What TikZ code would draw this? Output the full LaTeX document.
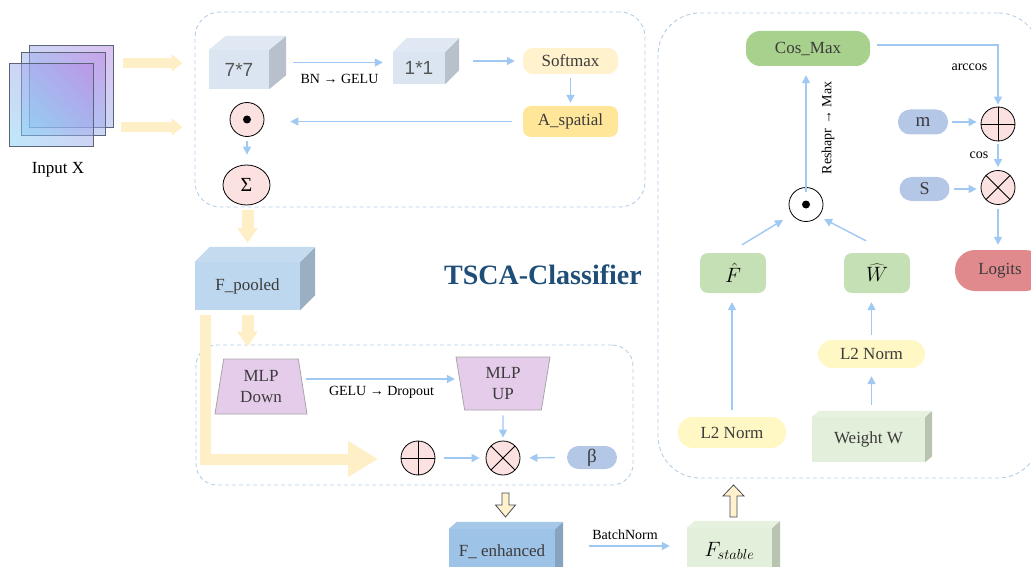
\documentclass[tikz,border=0pt]{standalone}
\usepackage{fontspec}
\setmainfont{Liberation Serif}
\setsansfont{Liberation Sans}
\usetikzlibrary{arrows.meta,calc,shapes.geometric,shadings}
\definecolor{yelc}{HTML}{FFEFC6}
\definecolor{yelh}{HTML}{FFF2CC}
\definecolor{hollb}{HTML}{4A4A55}
\definecolor{bluec}{HTML}{9FC8F2}
\definecolor{dashc}{HTML}{B4CEE8}
\definecolor{pinkc}{HTML}{FCE1E1}
\definecolor{softc}{HTML}{FFF2CC}
\definecolor{aspc}{HTML}{FFE699}
\definecolor{cubeA}{HTML}{DAE5F1}
\definecolor{cubeAside}{HTML}{B7C0CB}
\definecolor{cubeAtop}{HTML}{DFE8F3}
\definecolor{poolc}{HTML}{BDD7EE}
\definecolor{poolside}{HTML}{9AAFC2}
\definecolor{pooltop}{HTML}{C3DAEF}
\definecolor{enhc}{HTML}{9DC3E6}
\definecolor{enhside}{HTML}{86A4BF}
\definecolor{enhtop}{HTML}{A5C8E8}
\definecolor{grnl}{HTML}{E2EFDA}
\definecolor{grnlside}{HTML}{B8C4AF}
\definecolor{grnltop}{HTML}{E6F1DF}
\definecolor{mlpc}{HTML}{E6CCEB}
\definecolor{mlpb}{HTML}{A6A6A6}
\definecolor{betac}{HTML}{B4C7E7}
\definecolor{cosc}{HTML}{A9D18E}
\definecolor{hatc}{HTML}{C5E0B4}
\definecolor{logc}{HTML}{E08A8E}
\definecolor{l2c}{HTML}{FFF8C4}
\definecolor{titlec}{HTML}{1F4E79}
\definecolor{txtc}{HTML}{3B3B3B}
\definecolor{graysans}{HTML}{555555}
\definecolor{sqA}{HTML}{7FD3F5}
\definecolor{sqB}{HTML}{B784E3}
\definecolor{sqborder}{HTML}{5C6478}

\newcommand\cubefaces[5]{%
  \fill[#4] (#1.north east) -- ++(#2,-#3) -- ($(#1.south east)+(#2,-#3)$) -- (#1.south east) -- cycle;
  \fill[#5] (#1.north west) -- ++(#2,-#3) -- ($(#1.north east)+(#2,-#3)$) -- (#1.north east) -- cycle;
  \coordinate (#1-e) at ($(#1.east)+(#2,-#3/2)$);
  \coordinate (#1-w) at ($(#1.west)+(0,-#3/2)$);
  \coordinate (#1-n) at ($(#1.north)+(0,-#3)$);
}

\begin{document}
\begin{tikzpicture}[x=1pt,y=-1pt,
  every node/.style={inner sep=0pt, text=txtc, font=\fontsize{17}{20}\selectfont},
  lbl/.style={font=\fontsize{14}{16}\selectfont, text=black, inner sep=1pt},
  mathbig/.style={font=\fontsize{20.74}{24}\selectfont, text=black},
  dbox/.style={draw=dashc, line width=0.9pt, dash pattern=on 4pt off 3pt},
  barrow/.style={draw=bluec, line width=1.4pt, -{Triangle[length=8pt,width=8pt]}},
  yarr/.style={draw=yelc, line width=10pt, -{Triangle[length=11pt,width=17pt]}},
  hollow/.style={draw=hollb, fill=yelh, line width=0.8pt, line join=miter},
  sqn/.style={draw=sqborder, line width=1pt, lower left=sqA, upper right=sqB, lower right=sqA!50!sqB, upper left=sqA!50!sqB, fill opacity=0.5, draw opacity=1},
  cubef/.style={fill=#1},
  sansbig/.style={font=\sffamily\fontsize{19}{22}\selectfont, text=graysans},
  opbase/.style={circle, draw=black, line width=0.8pt, fill=pinkc, minimum size=34pt},
  oplusn/.style={opbase, path picture={\draw[line width=0.8pt] (path picture bounding box.north) -- (path picture bounding box.south) (path picture bounding box.west) -- (path picture bounding box.east);}},
  otimesn/.style={opbase, path picture={\draw[line width=0.8pt] (path picture bounding box.north west) -- (path picture bounding box.south east) (path picture bounding box.north east) -- (path picture bounding box.south west);}},
  odotn/.style={opbase, path picture={\fill[black] (path picture bounding box.center) circle[radius=4pt];}},
  mlpn/.style={trapezium, draw=mlpb, line width=0.8pt, fill=mlpc, trapezium left angle=75, trapezium right angle=75, trapezium stretches body, align=center, font=\fontsize{17}{21}\selectfont},
  pill/.style={fill=#1, rounded corners=12pt},
]
\useasboundingbox (0,0) rectangle (1031,567);

% dashed frames
\node[dbox, rounded corners=25pt, minimum width=450pt, minimum height=195pt] (topbox) at (420,109.5) {};
\node[dbox, rounded corners=21pt, minimum width=437pt, minimum height=140pt] (mlpbox) at (414.5,415) {};
\node[dbox, rounded corners=42pt, minimum width=382pt, minimum height=465pt] (clsbox) at (849,245.5) {};

% input
\node[sqn, minimum width=84pt, minimum height=82pt] (sqback) at (71,87) {};
\node[sqn, minimum width=84pt, minimum height=83pt] (sqmid) at (63,94.5) {};
\node[sqn, minimum width=84pt, minimum height=83pt] (sqfront) at (51,105.5) {};
\node[text=black] (inlab) at (58,170) {Input X};
\coordinate (inA) at (123,63);
\coordinate (inB) at (121,127);
\draw[yarr, shorten >=12pt] (inA) -- (inA -| topbox.west);
\draw[yarr, shorten >=12pt] (inB) -- (inB -| topbox.west);

% spatial attention
\node[cubef=cubeA, sansbig, minimum width=60pt, minimum height=39pt] (c77) at (239,69.5) {7*7};
\cubefaces{c77}{17}{14}{cubeAside}{cubeAtop}
\node[cubef=cubeA, sansbig, minimum width=52pt, minimum height=32pt] (c11) at (419,68) {1*1};
\cubefaces{c11}{14}{14}{cubeAside}{cubeAtop}
\node[pill=softc, rounded corners=10pt, minimum width=95pt, minimum height=26pt] (soft) at (570.5,61) {Softmax};
\node[pill=aspc, rounded corners=8pt, minimum width=95pt, minimum height=31pt] (asp) at (570.5,121.5) {A\_spatial};
\node[odotn] (dot1) at (247,119.5) {};
\node[ellipse, draw=black, line width=0.8pt, fill=pinkc, minimum width=47pt, minimum height=40pt, font=\fontsize{20}{22}\selectfont, text=black] (sig) at (246.5,185) {Σ};

\draw[barrow, shorten <=7pt, shorten >=10pt] (c77-e) -- (c77-e -| c11-w) node[lbl, midway, below=10pt] {BN → GELU};
\draw[barrow, shorten <=14pt, shorten >=8pt] (c11-e) -- (c11-e -| soft.west);
\draw[barrow, shorten <=4pt, shorten >=3pt] (soft.south) -- (asp.north);
\draw[barrow, shorten <=11pt, shorten >=26pt] (asp.west) -- (asp.west -| dot1.east);
\draw[barrow, shorten <=4pt, shorten >=10pt] (dot1.south) -- (dot1.south |- sig.north);

% F_pooled
\node[cubef=poolc, minimum width=105pt, minimum height=48pt] (fpool) at (247.5,286) {F\_pooled};
\cubefaces{fpool}{15}{15}{poolside}{pooltop}
\draw[yarr, line width=12pt, -{Triangle[length=15pt,width=20pt]}, shorten <=3pt, shorten >=4pt] (fpool.north |- topbox.south) -- (fpool-n);
\draw[yarr, line width=12pt, -{Triangle[length=15pt,width=20pt]}, shorten <=5pt, shorten >=-2pt] (fpool.south) -- (fpool.south |- mlpbox.north);

\node[font=\fontsize{28}{32}\selectfont\bfseries, text=titlec] (title) at (543,275) {TSCA-Classifier};

% channel MLP
\node[oplusn] (op1) at (418,458) {};
\node[otimesn] (ot1) at (503,458) {};
\coordinate (skipend) at (378,459);
\draw[yarr, line width=11pt, -{Triangle[length=30pt,width=34pt]}] ($(fpool.south west)+(10.5,5)$) |- (skipend);
\node[mlpn, minimum width=92pt, minimum height=55pt] (mlpd) at (261,386.5) {MLP\\Down};
\node[mlpn, shape border rotate=180, minimum width=94pt, minimum height=53pt] (mlpu) at (503,383.5) {MLP\\UP};
\node[pill=betac, rounded corners=11.5pt, minimum width=50pt, minimum height=23pt, font=\fontsize{19}{22}\selectfont] (beta) at (592,457.5) {β};

\draw[barrow, shorten <=3pt, shorten >=5pt] ([yshift=7.5pt]mlpd.east) -- ([yshift=7.5pt]mlpd.east -| mlpu.west) node[lbl, midway, below=6pt] {GELU → Dropout};
\draw[barrow, shorten <=5pt, shorten >=3pt] (mlpu.south) -- (ot1.north);
\draw[barrow, shorten <=9pt, shorten >=6pt] (op1.east) -- (ot1.west);
\draw[barrow, shorten <=12pt, shorten >=9pt] (beta.west) -- (ot1.east);

% F_enhanced, F_stable
\coordinate (hdA) at (505.5,493);
\draw[hollow] (hdA) ++(-3.5,0) -- ++(7,0) -- ++(0,12) -- ++(6.5,0) -- ++(-10,12) -- ++(-10,-12) -- ++(6.5,0) -- cycle;
\node[cubef=enhc, minimum width=106pt, minimum height=46pt] (fenh) at (502,552) {F\_ enhanced};
\cubefaces{fenh}{8}{7}{enhside}{enhtop}
\node[cubef=grnl, mathbig, minimum width=85pt, minimum height=46pt] (fstab) at (729.5,551) {$F_{stable}$};
\cubefaces{fstab}{8}{7}{grnlside}{grnltop}
\draw[barrow, shorten <=26pt, shorten >=17pt] ([yshift=2.5pt]fenh-e) -- ([yshift=2.5pt]fenh-e -| fstab.west) node[lbl, midway, above=5pt] {BatchNorm};
\coordinate (huB) at (733.5,517);
\draw[hollow] (huB) ++(-3.5,0) -- ++(7,0) -- ++(0,-21) -- ++(7,0) -- ++(-10.5,-11) -- ++(-10.5,11) -- ++(7,0) -- cycle;

% classifier
\node[pill=cosc, rounded corners=14pt, minimum width=124pt, minimum height=35pt] (cosmax) at (808,48.5) {Cos\_Max};
\node[oplusn] (op2) at (998,124) {};
\node[otimesn] (ot2) at (998,187.5) {};
\node[pill=betac, minimum width=50pt, minimum height=25pt, font=\fontsize{19}{22}\selectfont] (mbox) at (923,122) {m};
\node[pill=betac, minimum width=50pt, minimum height=24pt, font=\fontsize{18}{22}\selectfont] (sbox) at (924.5,189) {S};
\node[pill=logc, rounded corners=20pt, minimum width=90pt, minimum height=41pt] (logits) at (1000,270.5) {Logits};
\node[opbase, fill=white, path picture={\fill[black] (path picture bounding box.center) circle[radius=4pt];}] (dot2) at (806,204.5) {};
\node[pill=hatc, mathbig, rounded corners=8pt, minimum width=66pt, minimum height=40pt] (fhat) at (733,273) {$\hat{F}$};
\node[pill=hatc, mathbig, rounded corners=8pt, minimum width=66pt, minimum height=40pt] (what) at (877,273) {$\widehat{W}$};
\node[pill=l2c, rounded corners=15pt, minimum width=108pt, minimum height=31pt] (l2a) at (732,432.5) {L2 Norm};
\node[pill=l2c, rounded corners=14pt, minimum width=107pt, minimum height=28pt] (l2b) at (871.5,354) {L2 Norm};
\node[cubef=grnl, minimum width=113pt, minimum height=45pt] (ww) at (868.5,439.5) {Weight W};
\cubefaces{ww}{7}{6}{grnlside}{grnltop}

\draw[barrow, shorten <=7pt, shorten >=2pt] ([yshift=3.5pt]cosmax.east) -| (op2.north) node[lbl, pos=0.68, left=9pt] {arccos};
\draw[barrow, shorten <=4pt, shorten >=4pt] (mbox.east) -- (mbox.east -| op2.west);
\draw[barrow, shorten <=3pt, shorten >=3pt] (op2.south) -- (ot2.north) node[lbl, midway, left=8pt] {cos};
\draw[barrow, shorten <=4pt, shorten >=4pt] (sbox.east) -- (sbox.east -| ot2.west);
\draw[barrow, shorten <=4pt, shorten >=5pt] (ot2.south) -- (ot2.south |- logits.north);
\draw[barrow, shorten <=13pt, shorten >=9pt] (dot2.center) -- (dot2.center |- cosmax.south);
\node[lbl, rotate=90] (rlab) at (828,128) {Reshapr → Max};
\draw[barrow] ($(fhat.north)+(9,-8)$) -- ($(dot2.center)+(-23,15.5)$);
\draw[barrow] ($(what.north)+(-11,-12)$) -- ($(dot2.center)+(18,14.5)$);
\draw[barrow, shorten <=7pt, shorten >=9pt] (l2a.north) -- (l2a.north |- fhat.south);
\draw[barrow, shorten <=5pt, shorten >=9pt] (l2b.north) -- (l2b.north |- what.south);
\draw[barrow, shorten <=6pt, shorten >=8pt] (l2b.south |- ww-n) -- (l2b.south);
\end{tikzpicture}
\end{document}
